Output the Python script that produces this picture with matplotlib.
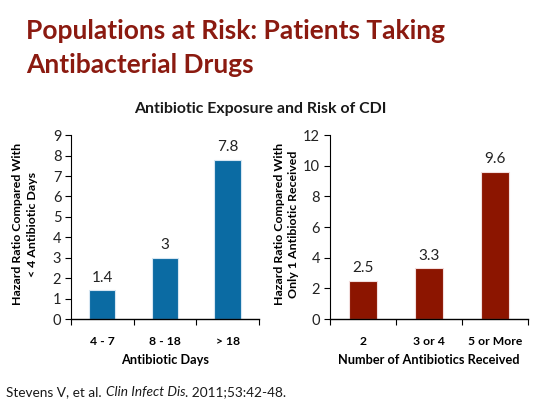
import numpy as np
import matplotlib.pyplot as plt

days = ['4 - 7', '8 - 18', '> 18']
days_hr = [1.4, 3, 7.8]
days_labels = ['1.4', '3', '7.8']

num_abx = ['2', '3 or 4', '5 or More']
num_hr = [2.5, 3.3, 9.6]
num_labels = ['2.5', '3.3', '9.6']

plt.rcParams['font.family'] = ['Lato', 'DejaVu Sans']

fig = plt.figure(figsize=(5.4, 4.05), dpi=100)
fig.patch.set_facecolor('white')

title_col = '#8B1A10'
fig.text(0.048, 0.904, 'Populations at Risk: Patients Taking',
         color=title_col, fontsize=19, fontweight='bold', ha='left', va='baseline')
fig.text(0.048, 0.82, 'Antibacterial Drugs',
         color=title_col, fontsize=19, fontweight='bold', ha='left', va='baseline')
fig.text(0.482, 0.731, 'Antibiotic Exposure and Risk of CDI', fontsize=11.4,
         fontweight='bold', ha='center', va='center', color='#1a1a1a')

# citation with italic journal name
fig.canvas.draw()
r = fig.canvas.get_renderer()
x0 = 0.012
for part, style in [('Stevens V, et al. ', 'normal'), ('Clin Infect Dis', 'italic'),
                    ('. 2011;53:42-48.', 'normal')]:
    t = fig.text(x0, 0.022, part, fontsize=9.8, style=style, ha='left', va='baseline',
                 color='#1a1a1a')
    bb = t.get_window_extent(renderer=r)
    x0 += bb.width / fig.bbox.width


def draw(ax, cats, vals, labels, color, edge, ymax, step, ylabel, xlabel, ylx):
    x = np.arange(len(cats))
    ax.bar(x, vals, width=0.42, color=color, edgecolor=edge, linewidth=0.8)
    for xi, v, lab in zip(x, vals, labels):
        ax.text(xi, v + ymax * 0.03, lab, ha='center', va='bottom', fontsize=11, color='#222222')
    ax.set_xlim(-0.5, len(cats) - 0.5)
    ax.set_ylim(0, ymax)
    ax.set_yticks(np.arange(0, ymax + 0.1, step))
    ax.set_xticks(x)
    ax.set_xticklabels(cats, fontsize=8.7, fontweight='bold')
    ax.set_xticks(np.arange(-0.5, len(cats)), minor=True)
    ax.tick_params(axis='x', which='major', length=0, pad=12)
    ax.tick_params(axis='x', which='minor', length=4, direction='out', width=0.8)
    ax.tick_params(axis='y', labelsize=10.5, length=4, width=0.8, direction='out', pad=3,
                   labelcolor='#222222')
    for s in ['top', 'right']:
        ax.spines[s].set_visible(False)
    ax.spines['left'].set_linewidth(0.8)
    ax.spines['bottom'].set_linewidth(1.0)
    ax.set_ylabel(ylabel, fontsize=8.9, fontweight='bold', linespacing=1.35, va='center')
    ax.yaxis.set_label_coords(ylx, 0.515)
    ax.set_xlabel(xlabel, fontsize=9.2, fontweight='bold', labelpad=5)


ax1 = fig.add_axes([0.1315, 0.2123, 0.348, 0.454])
draw(ax1, days, days_hr, days_labels, '#0B6BA3', '#d6e6f2', 9, 1,
     'Hazard Ratio Compared With\n< 4 Antibiotic Days', 'Antibiotic Days', -0.245)

ax2 = fig.add_axes([0.611, 0.2123, 0.367, 0.454])
draw(ax2, num_abx, num_hr, num_labels, '#8C1500', '#f2dede', 12, 2,
     'Hazard Ratio Compared With\nOnly 1 Antibiotic Received', 'Number of Antibiotics Received',
     -0.22)

fig.savefig('out.png', dpi=100, facecolor='white')
